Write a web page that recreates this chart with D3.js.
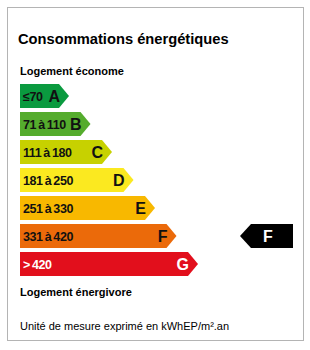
<!DOCTYPE html>
<meta charset="utf-8">
<script src="https://d3js.org/d3.v7.js"></script>
<style>
body { margin: 0; background: #fff; }
svg { font-family: "Liberation Sans", Arial, sans-serif; }
</style>
<div id="dpe"></div>
<script>
// DPE label data
var classes = ["A", "B", "C", "D", "E", "F", "G"];
var ranges = ["\u226470", "71 \u00e0 110", "111 \u00e0 180", "181 \u00e0 250", "251 \u00e0 330", "331 \u00e0 420", "> 420"];
var palette = ["#0a9a3f", "#55ac2d", "#c7d100", "#fbe920", "#f8b800", "#eb6a0a", "#e20f1c"];
var current = "F";

var width = 310, height = 350;

var svg = d3.select("#dpe").append("svg")
  .attr("width", width)
  .attr("height", height);

// frame
svg.append("rect")
  .attr("x", 7.5).attr("y", 7.5)
  .attr("width", 296).attr("height", 333)
  .attr("fill", "#fff")
  .attr("stroke", "#b4b4b4");

svg.append("text")
  .attr("x", 18).attr("y", 44)
  .style("font-size", "14.7px").style("font-weight", "bold")
  .text("Consommations énergétiques");

svg.append("text")
  .attr("x", 20).attr("y", 75)
  .style("font-size", "11px").style("font-weight", "bold")
  .text("Logement économe");

// scales
var y = d3.scaleBand()
  .domain(classes)
  .range([84, 276])
  .paddingInner(4 / 28)
  .paddingOuter(0);

var len = d3.scaleLinear()
  .domain([0, classes.length - 1])
  .range([49, 178]);

var color = d3.scaleOrdinal().domain(classes).range(palette);

var x0 = 20, tip = 10;

function arrowPath(d, i) {
  var top = y(d), h = y.bandwidth(), right = x0 + len(i);
  return "M" + x0 + "," + top +
    "L" + (right - tip) + "," + top +
    "L" + right + "," + (top + h / 2) +
    "L" + (right - tip) + "," + (top + h) +
    "L" + x0 + "," + (top + h) + "Z";
}

var bars = svg.append("g").selectAll("g")
  .data(classes)
  .enter().append("g");

bars.append("path")
  .attr("d", arrowPath)
  .attr("fill", function(d) { return color(d); });

bars.append("text")
  .attr("x", x0 + 3)
  .attr("y", function(d) { return y(d) + 17; })
  .style("font-size", "12.5px").style("font-weight", "bold")
  .style("letter-spacing", "-0.4px").style("word-spacing", "-1px")
  .attr("fill", function(d) { return d == "G" ? "#fff" : "#111"; })
  .text(function(d, i) { return ranges[i]; });

bars.append("text")
  .attr("x", function(d, i) { return x0 + len(i) - 9; })
  .attr("y", function(d) { return y(d) + 17.5; })
  .attr("text-anchor", "end")
  .style("font-size", "16px").style("font-weight", "bold")
  .attr("fill", function(d) { return d == "G" ? "#fff" : "#111"; })
  .text(function(d) { return d; });

// current class marker
var mTop = y(current), mh = y.bandwidth();
svg.append("path")
  .attr("d", "M240," + (mTop + mh / 2) +
    "L251," + mTop + "L293," + mTop + "L293," + (mTop + mh) +
    "L251," + (mTop + mh) + "Z")
  .attr("fill", "#000");

svg.append("text")
  .attr("x", 268).attr("y", mTop + 17.5)
  .attr("text-anchor", "middle")
  .style("font-size", "16px").style("font-weight", "bold")
  .attr("fill", "#fff")
  .text(current);

svg.append("text")
  .attr("x", 20).attr("y", 296)
  .style("font-size", "11px").style("font-weight", "bold")
  .text("Logement énergivore");

svg.append("text")
  .attr("x", 20).attr("y", 330)
  .style("font-size", "11px")
  .text("Unité de mesure exprimé en kWhEP/m².an");
</script>
